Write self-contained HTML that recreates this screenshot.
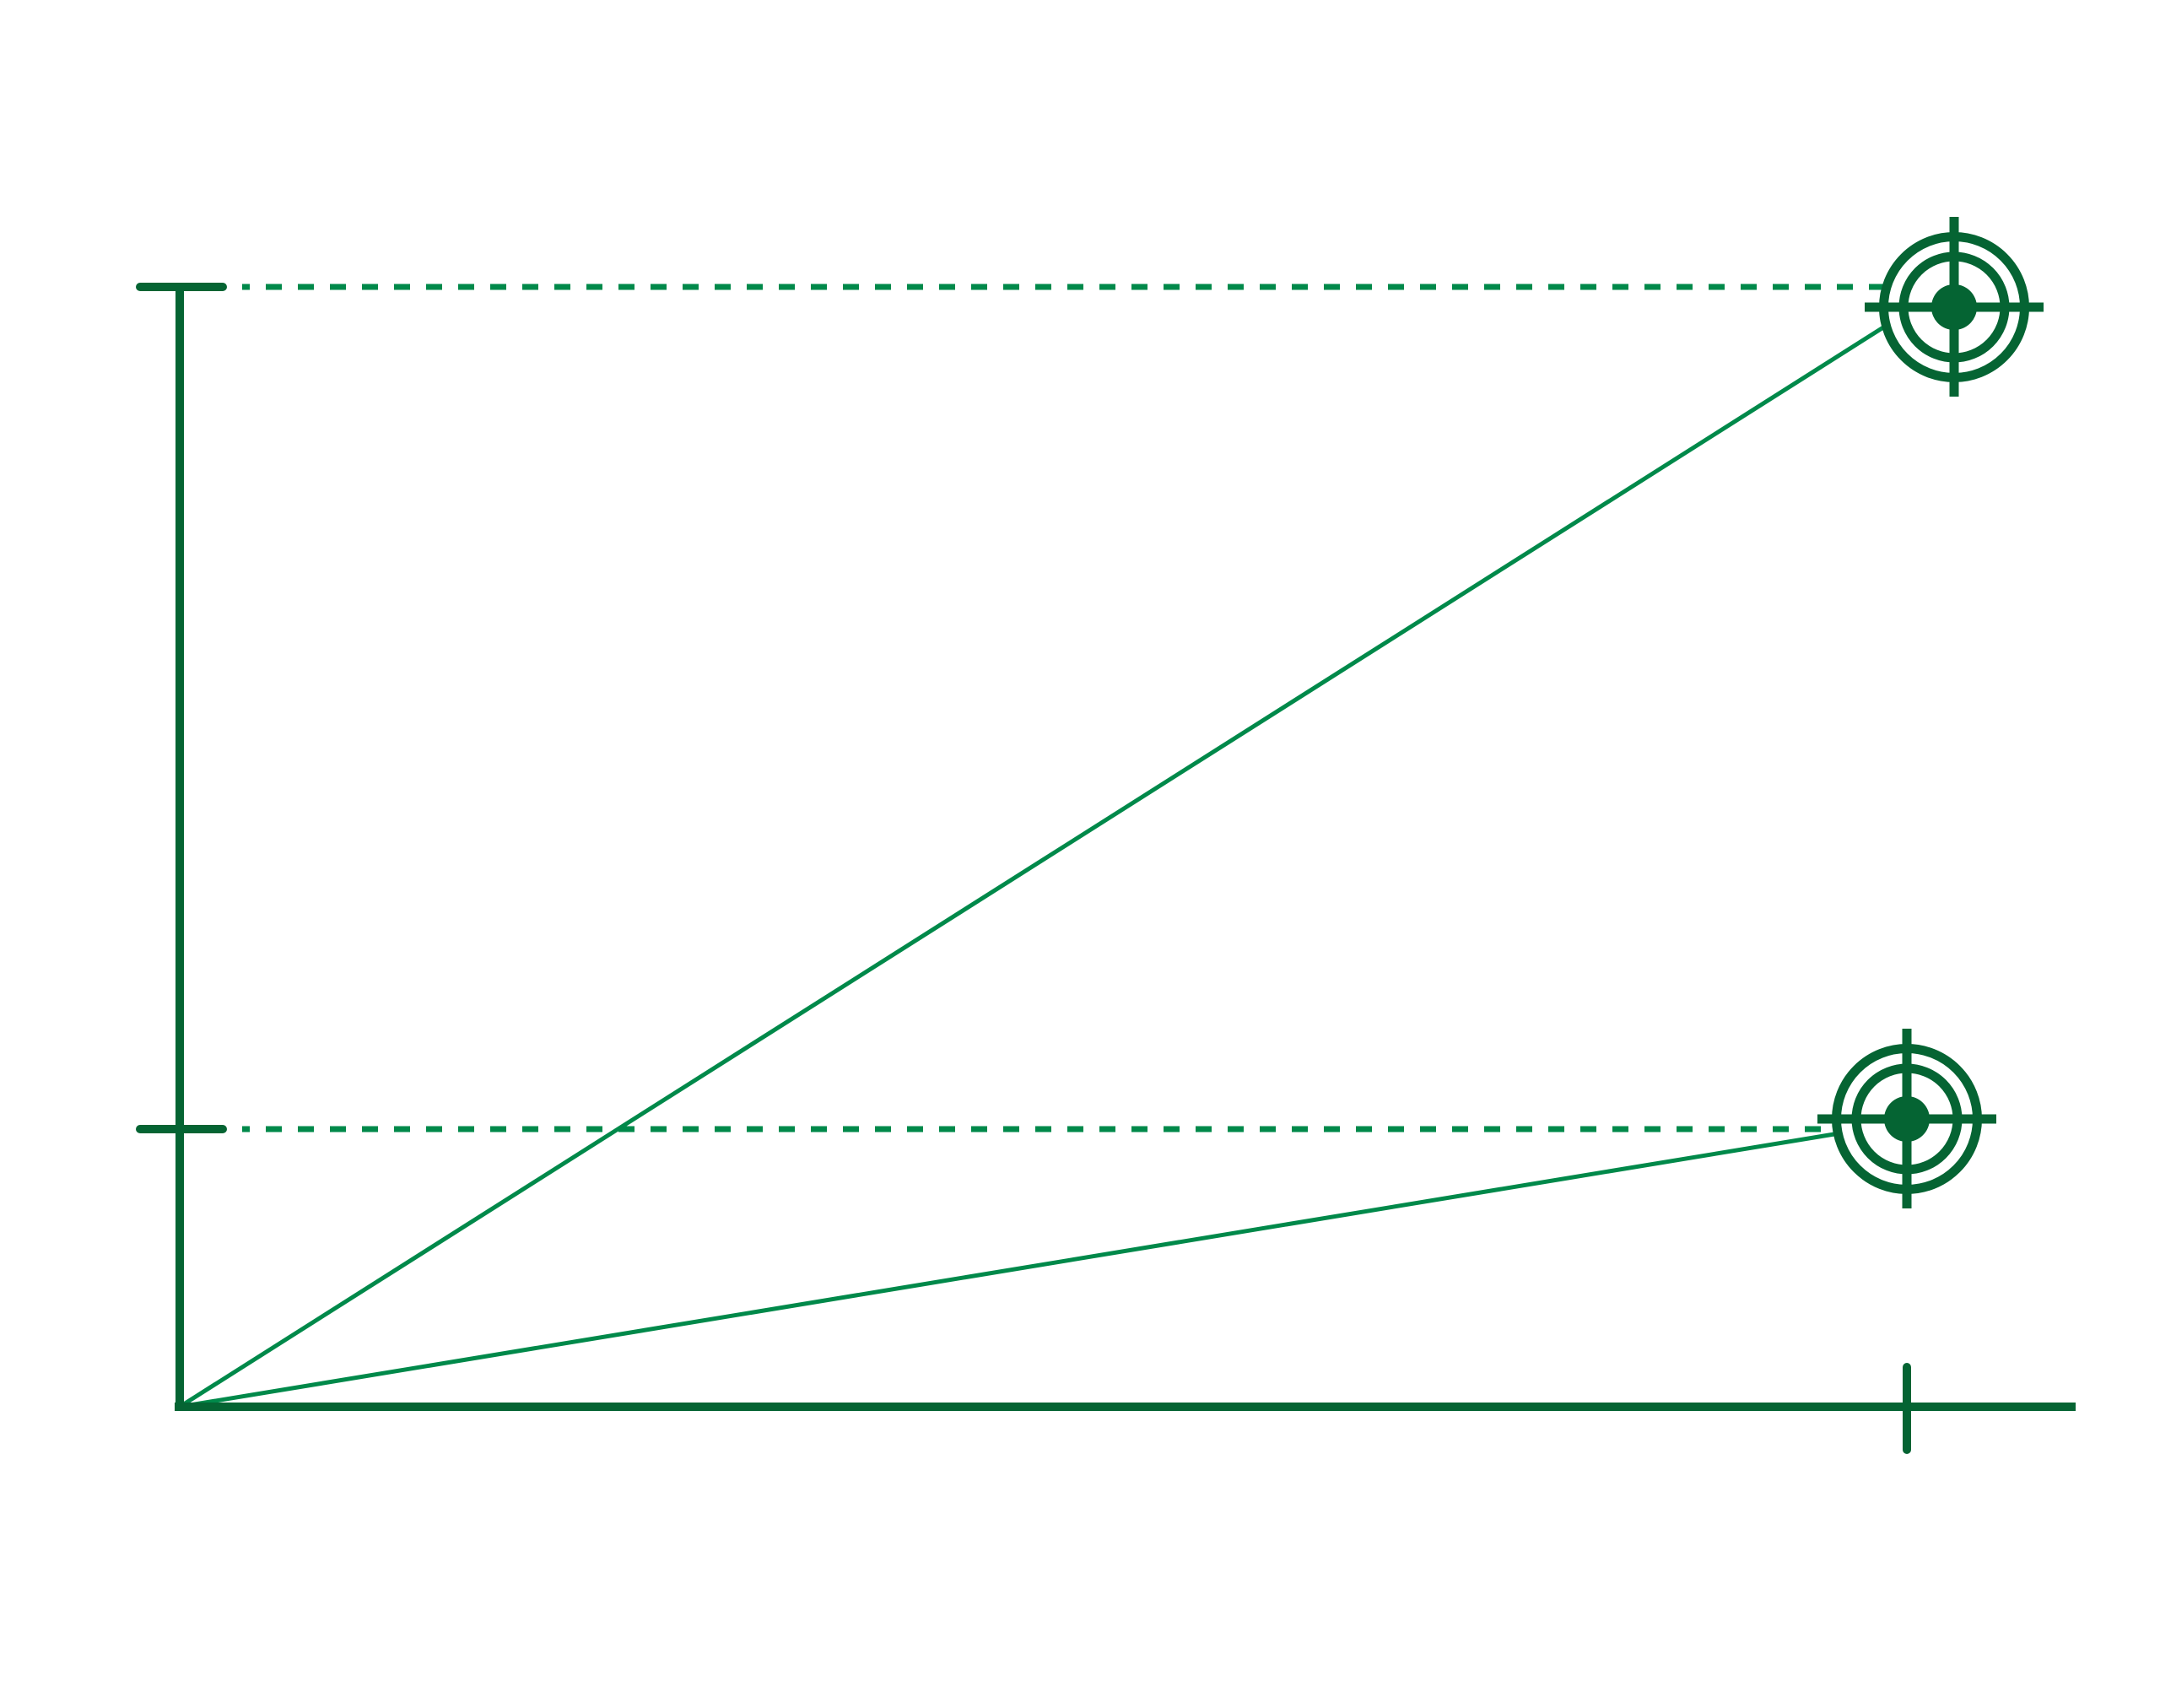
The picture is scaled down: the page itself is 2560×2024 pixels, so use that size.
<!DOCTYPE html>
<html><head><style>html,body{margin:0;padding:0;background:#fff}</style></head>
<body>
<svg width="2560" height="2019" viewBox="0 0 2560 2019" xmlns="http://www.w3.org/2000/svg">
<defs>
<g id="tgt">
<circle r="83.5" fill="none" stroke="#056433" stroke-width="11"/>
<circle r="60" fill="none" stroke="#056433" stroke-width="11"/>
<circle r="27" fill="#056433"/>
<rect x="-106" y="-5.5" width="212" height="11" fill="#056433"/>
<rect x="-5.5" y="-107" width="11" height="213" fill="#056433"/>
</g>
</defs>
<line x1="287" y1="340" x2="2235" y2="340" stroke="#00894a" stroke-width="7" stroke-dasharray="9 19 19 19 19 19 19 19 19 19 19 19 19 19 19 19 19 19 19 19 19 19 19 19 19 19 19 19 19 19 19 19 19 19 19 19 19 19 19 19 19 19 19 19 19 19 19 19 19 19 19 19 19 19 19 19 19 19 19 19 19 19 19 19 19 19 19 19 19 19 19 19 19 19 19 19 19 19 19 19 19 19 19 19 19 19 19 19 19 19 19 19 19 19 19 19 19 19 19 19 19 19 19 19 19 19 19 19 19 19 19 19 19 19 19 19 19 19 19 19 19 19 19 19 19 19 19 19 19 19 19 19 19 2000"/>
<line x1="287" y1="1338" x2="2175" y2="1338" stroke="#00894a" stroke-width="7" stroke-dasharray="9 19 19 19 19 19 19 19 19 19 19 19 19 19 19 19 19 19 19 19 19 19 19 19 19 19 19 19 19 19 19 19 19 19 19 19 19 19 19 19 19 19 19 19 19 19 19 19 19 19 19 19 19 19 19 19 19 19 19 19 19 19 19 19 19 19 19 19 19 19 19 19 19 19 19 19 19 19 19 19 19 19 19 19 19 19 19 19 19 19 19 19 19 19 19 19 19 19 19 19 19 19 19 19 19 19 19 19 19 19 19 19 19 19 19 19 19 19 19 19 19 19 19 19 19 19 19 19 19 19 19 19 19 2000"/>
<line x1="213" y1="1667" x2="2232" y2="388" stroke="#00894a" stroke-width="5" stroke-linecap="round"/>
<line x1="213" y1="1667" x2="2174" y2="1344" stroke="#00894a" stroke-width="5" stroke-linecap="round"/>
<line x1="213" y1="340" x2="213" y2="1672" stroke="#056433" stroke-width="10"/>
<line x1="207" y1="1667" x2="2460" y2="1667" stroke="#056433" stroke-width="10"/>
<line x1="166" y1="340" x2="264" y2="340" stroke="#056433" stroke-width="10" stroke-linecap="round"/>
<line x1="166" y1="1338" x2="264" y2="1338" stroke="#056433" stroke-width="10" stroke-linecap="round"/>
<line x1="2260" y1="1620" x2="2260" y2="1718" stroke="#056433" stroke-width="10" stroke-linecap="round"/>
<use href="#tgt" x="2316" y="364"/>
<use href="#tgt" x="2260" y="1326"/>
</svg>
</body></html>
